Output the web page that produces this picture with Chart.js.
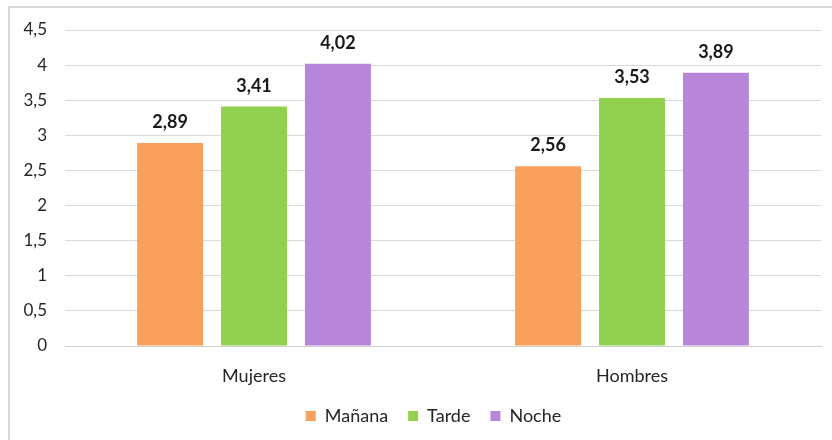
<!DOCTYPE html>
<html>
<head>
<meta charset="utf-8">
<script src="https://cdn.jsdelivr.net/npm/chart.js@4.4.1/dist/chart.umd.min.js"></script>
<style>
  html, body { margin: 0; padding: 0; background: #fff; }
  #wrap { position: absolute; left: 0; top: 0; width: 832px; height: 440px; }
  #frame { position: absolute; left: 8px; top: 6px; width: 900px; height: 500px;
           border-left: 2px solid #d9d9d9; border-top: 2px solid #d9d9d9; }
</style>
</head>
<body>
<div id="wrap">
  <div id="frame"></div>
  <canvas id="chart" width="832" height="440"></canvas>
</div>
<script>
const categories = ['Mujeres', 'Hombres'];
const seriesNames = ['Mañana', 'Tarde', 'Noche'];
const manana = [2.89, 2.56];
const tarde = [3.41, 3.53];
const noche = [4.02, 3.89];
const colors = ['#F9A05C', '#92D050', '#B886D9'];

const fmt = v => String(v).replace('.', ',');

// etiquetas de valor sobre cada barra
const valueLabels = {
    id: 'valueLabels',
    afterDatasetsDraw(chart) {
        const ctx = chart.ctx;
        ctx.save();
        ctx.font = 'bold 18px Lato';
        ctx.fillStyle = '#1a1a1a';
        ctx.textAlign = 'center';
        ctx.textBaseline = 'alphabetic';
        chart.data.datasets.forEach((ds, i) => {
            chart.getDatasetMeta(i).data.forEach((bar, j) => {
                ctx.fillText(fmt(ds.data[j]), bar.x, bar.y - 15);
            });
        });
        ctx.restore();
    }
};

// la leyenda del original está algo desplazada a la derecha
const legendShift = {
    id: 'legendShift',
    afterLayout(chart) {
        chart.legend.left += 23;
        chart.legend.right += 23;
    }
};

const ctx = document.getElementById('chart').getContext('2d');
new Chart(ctx, {
    type: 'bar',
    data: {
        labels: categories,
        datasets: [manana, tarde, noche].map((d, i) => ({
            label: seriesNames[i],
            data: d,
            backgroundColor: colors[i],
            borderWidth: 0,
            categoryPercentage: 0.666,
            barPercentage: 0.786
        }))
    },
    options: {
        responsive: false,
        animation: false,
        layout: { padding: { top: 30, right: 11, left: 0, bottom: 5 } },
        plugins: {
            legend: {
                position: 'bottom',
                labels: {
                    font: { family: 'Lato', size: 18 },
                    color: '#262626',
                    boxWidth: 10,
                    boxHeight: 10,
                    padding: 20
                }
            },
            tooltip: { enabled: false }
        },
        scales: {
            x: {
                grid: { display: false },
                border: { color: '#d0d0d0', width: 1 },
                afterFit: s => { s.height = 41; },
                ticks: { font: { family: 'Lato', size: 18 }, color: '#262626', padding: 11 }
            },
            y: {
                min: 0,
                max: 4.5,
                afterFit: s => { s.width = 65; },
                ticks: {
                    stepSize: 0.5,
                    font: { family: 'Lato', size: 17 },
                    color: '#262626',
                    padding: 18,
                    callback: v => fmt(v)
                },
                grid: { color: '#d9d9d9', lineWidth: 1, drawTicks: false },
                border: { display: false }
            }
        }
    },
    plugins: [valueLabels, legendShift]
});
</script>
</body>
</html>
